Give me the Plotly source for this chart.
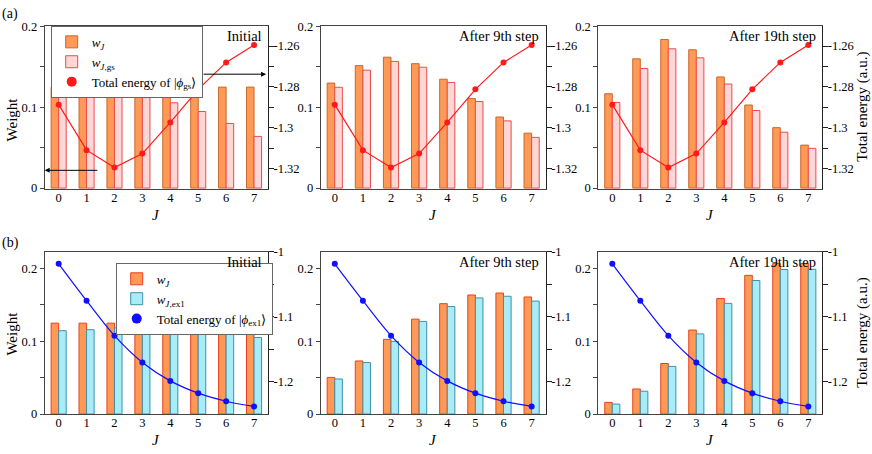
import plotly.graph_objects as go

# ---------------- data ----------------
J = [0, 1, 2, 3, 4, 5, 6, 7]

# row (a): ground state
wJ_a_init = [0.125, 0.125, 0.125, 0.125, 0.125, 0.125, 0.125, 0.125]
wgs_init = [0.1128, 0.114, 0.1144, 0.112, 0.1056, 0.0948, 0.080, 0.064]
wJ_a_9 = [0.130, 0.1516, 0.162, 0.154, 0.1348, 0.1108, 0.088, 0.068]
wgs_9 = [0.1248, 0.146, 0.1568, 0.1496, 0.1308, 0.1072, 0.0832, 0.0628]
wJ_a_19 = [0.1168, 0.160, 0.184, 0.1712, 0.1376, 0.1028, 0.0748, 0.0532]
wgs_19 = [0.106, 0.148, 0.1724, 0.1612, 0.1288, 0.096, 0.0692, 0.0492]
energy_gs = [-1.2887, -1.311, -1.3195, -1.3127, -1.2974, -1.2812, -1.268, -1.2595]

# row (b): first excited state
wJ_b_init = [0.125, 0.125, 0.125, 0.125, 0.125, 0.125, 0.125, 0.125]
wex_init = [0.1146, 0.116, 0.1186, 0.120, 0.120, 0.1186, 0.1133, 0.1053]
wJ_b_9 = [0.0504, 0.073, 0.1027, 0.1305, 0.1518, 0.1637, 0.1664, 0.161]
wex_9 = [0.0482, 0.0708, 0.100, 0.1274, 0.1478, 0.1597, 0.162, 0.1553]
wJ_b_19 = [0.016, 0.0345, 0.0695, 0.1155, 0.1588, 0.1907, 0.2071, 0.2071]
wex_19 = [0.0137, 0.0314, 0.0655, 0.1102, 0.1522, 0.1836, 0.1987, 0.1991]
energy_ex1 = [-1.0189, -1.0756, -1.1294, -1.1706, -1.199, -1.2179, -1.2303, -1.2383]

step_labels = ["Initial", "After 9th step", "After 19th step"]

weight_ticks = [0, 0.05, 0.1, 0.15, 0.2]
weight_ticktext = ["0", "", "0.1", "", "0.2"]
energy_a_ticks = [-1.32, -1.31, -1.30, -1.29, -1.28, -1.27, -1.26]
energy_a_ticktext = ["-1.32", "", "-1.3", "", "-1.28", "", "-1.26"]
energy_b_ticks = [-1.2, -1.15, -1.1, -1.05, -1.0]
energy_b_ticktext = ["-1.2", "", "-1.1", "", "-1"]

# ---------------- geometry (pixels) ----------------
W, H = 872, 454
FONT = "Liberation Serif"
col_px = [(44.7, 268.0), (320.7, 545.7), (598.3, 822.3)]
row_px = [(19.3, 187.7), (252.3, 420.0)]


def fx(px):
    return px / W


def fy(py):
    return 1 - py / H


ORANGE = "#FF9955"
ORANGE_EDGE_A = "#C8682C"
ORANGE_EDGE_B = "#E8401C"
PINK = "#FFD6D6"
PINK_EDGE = "#E84C4C"
CYAN = "#A8ECF8"
CYAN_EDGE = "#3F90A8"
RED = "#FF1A1A"
BLUE = "#1010FF"

rows = [
    dict(wJ=[wJ_a_init, wJ_a_9, wJ_a_19], w2=[wgs_init, wgs_9, wgs_19], energy=energy_gs,
         w2_name="<i>w</i><sub><i>J</i>,gs</sub>", e_name="Total energy of |<i>ϕ</i><sub>gs</sub>⟩",
         fill2=PINK, edge2=PINK_EDGE, edge1=ORANGE_EDGE_A, lc=RED, shape="linear",
         yrange=[-0.001, 0.201], erange=[-1.33, -1.25],
         eticks=energy_a_ticks, etext=energy_a_ticktext, legend="legend"),
    dict(wJ=[wJ_b_init, wJ_b_9, wJ_b_19], w2=[wex_init, wex_9, wex_19], energy=energy_ex1,
         w2_name="<i>w</i><sub><i>J</i>,ex1</sub>", e_name="Total energy of |<i>ϕ</i><sub>ex1</sub>⟩",
         fill2=CYAN, edge2=CYAN_EDGE, edge1=ORANGE_EDGE_B, lc=BLUE, shape="spline",
         yrange=[0, 0.2235], erange=[-1.25, -1.0],
         eticks=energy_b_ticks, etext=energy_b_ticktext, legend="legend2"),
]

fig = go.Figure()
layout = {}
annotations = []
tickfont = dict(family=FONT, size=12.5, color="black")

for r, R in enumerate(rows):
    y0, y1 = row_px[r]
    for c in range(3):
        i = r * 3 + c
        xa = i + 1
        ya = 2 * i + 1
        ya2 = 2 * i + 2
        xn = "x" if xa == 1 else f"x{xa}"
        yn = "y" if ya == 1 else f"y{ya}"
        yn2 = f"y{ya2}"
        x0, x1 = col_px[c]
        first = c == 0

        fig.add_trace(go.Bar(
            x=J, y=R["wJ"][c], offset=-0.27, width=0.27,
            marker=dict(color=ORANGE, line=dict(color=R["edge1"], width=1)),
            name="<i>w</i><sub><i>J</i></sub>", legend=R["legend"], showlegend=first,
            xaxis=xn, yaxis=yn))
        fig.add_trace(go.Bar(
            x=J, y=R["w2"][c], offset=0.0, width=0.27,
            marker=dict(color=R["fill2"], line=dict(color=R["edge2"], width=1)),
            name=R["w2_name"], legend=R["legend"], showlegend=first,
            xaxis=xn, yaxis=yn))
        fig.add_trace(go.Scatter(
            x=J, y=R["energy"], mode="lines+markers",
            line=dict(color=R["lc"], width=1.2, shape=R["shape"]),
            marker=dict(color=R["lc"], size=6),
            showlegend=False, xaxis=xn, yaxis=yn2))
        if first:
            fig.add_trace(go.Scatter(
                x=[None], y=[None], mode="markers",
                marker=dict(color=R["lc"], size=10),
                name=R["e_name"], legend=R["legend"], showlegend=True,
                xaxis=xn, yaxis=yn2))

        layout[f"xaxis{xa}"] = dict(
            domain=[fx(x0), fx(x1)], anchor=yn, range=[-0.5, 7.5],
            tickvals=J, ticks="", ticklen=0, ticklabelstandoff=-3,
            showgrid=False, zeroline=False,
            showline=True, linecolor="#444", linewidth=1, mirror=True,
            tickfont=tickfont)
        layout[f"yaxis{ya}"] = dict(
            domain=[fy(y1), fy(y0)], anchor=xn, range=R["yrange"],
            tickvals=weight_ticks, ticktext=weight_ticktext,
            ticks="outside", ticklen=4, tickcolor="#444",
            showgrid=False, zeroline=False, showline=True, linecolor="#444",
            linewidth=1, mirror=True, tickfont=tickfont)
        layout[f"yaxis{ya2}"] = dict(
            overlaying=yn, side="right", anchor=xn, range=R["erange"],
            tickvals=R["eticks"], ticktext=R["etext"],
            ticks="outside", ticklen=5, tickcolor="#222", ticklabelstandoff=-3,
            showgrid=False, zeroline=False, showline=True, linecolor="#222",
            linewidth=1, tickfont=tickfont)

        # step label
        annotations.append(dict(
            text=step_labels[c], xref="paper", yref="paper",
            x=fx(x1 - 4.5), y=fy(y0 + 10.5), xanchor="right", yanchor="middle",
            showarrow=False, font=dict(family=FONT, size=14.5, color="black")))
        # x-axis title
        annotations.append(dict(
            text="<i>J</i>", xref="paper", yref="paper",
            x=fx((x0 + x1) / 2), y=fy(y1 + 27), xanchor="center", yanchor="middle",
            showarrow=False, font=dict(family=FONT, size=15, color="black")))

    # y titles
    annotations.append(dict(
        text="Weight", xref="paper", yref="paper", textangle=-90,
        x=fx(12), y=fy(116 if r == 0 else 337), xanchor="center", yanchor="middle",
        showarrow=False, font=dict(family=FONT, size=15, color="black")))
    annotations.append(dict(
        text="Total energy (a.u.)", xref="paper", yref="paper", textangle=-90,
        x=fx(863), y=fy(103 if r == 0 else 336), xanchor="center", yanchor="middle",
        showarrow=False, font=dict(family=FONT, size=15, color="black")))

# panel letters
annotations.append(dict(text="(a)", xref="paper", yref="paper", x=fx(0), y=fy(7),
                        xanchor="left", yanchor="middle", showarrow=False,
                        font=dict(family=FONT, size=14, color="black")))
annotations.append(dict(text="(b)", xref="paper", yref="paper", x=fx(0), y=fy(244),
                        xanchor="left", yanchor="middle", showarrow=False,
                        font=dict(family=FONT, size=14, color="black")))

# arrows in first panel pointing to the axes
annotations.append(dict(text="", x=-0.5, y=0.022, xref="x", yref="y",
                        ax=1.44, ay=0.022, axref="x", ayref="y",
                        showarrow=True, arrowhead=2, arrowsize=1, arrowwidth=1,
                        arrowcolor="black"))
annotations.append(dict(text="", x=7.43, y=0.141, xref="x", yref="y",
                        ax=5.14, ay=0.141, axref="x", ayref="y",
                        showarrow=True, arrowhead=2, arrowsize=1, arrowwidth=1,
                        arrowcolor="black"))

legend_common = dict(
    xanchor="left", yanchor="top", bgcolor="white", bordercolor="#666",
    borderwidth=1, font=dict(family=FONT, size=13, color="black"),
    traceorder="normal", tracegroupgap=0, itemwidth=30)

fig.update_layout(
    width=W, height=H, margin=dict(l=0, r=0, t=0, b=0),
    paper_bgcolor="white", plot_bgcolor="white",
    barmode="overlay", showlegend=True,
    font=dict(family=FONT, size=13, color="black"),
    legend=dict(x=fx(50.7), y=fy(19.5), **legend_common),
    legend2=dict(x=fx(115.7), y=fy(264), **legend_common),
    annotations=annotations,
    **layout)

fig.write_html("out.html", config={"displayModeBar": False},
               post_script="document.body.style.margin='0';document.body.style.padding='0';")
